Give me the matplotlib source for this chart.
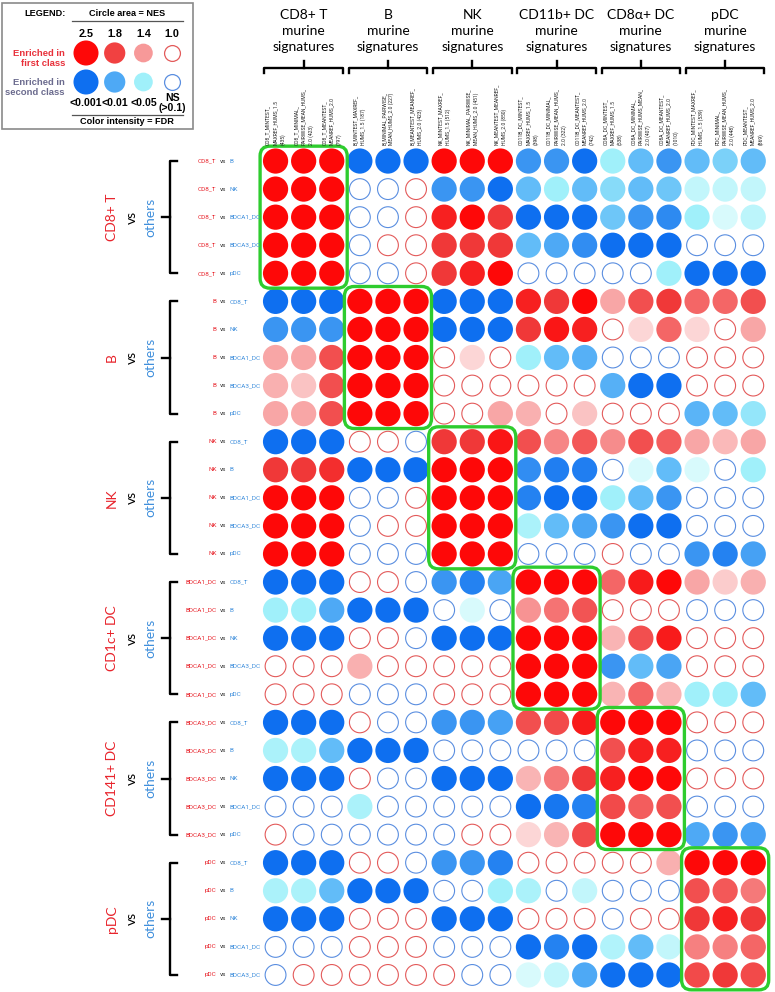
"""
Recreate GSEA circle grid: human cell-type comparisons vs murine signatures.
"""

import numpy as np
import matplotlib
matplotlib.use("Agg")
import matplotlib.pyplot as plt
from matplotlib.colors import to_rgb
from matplotlib.patches import FancyBboxPatch, Rectangle

# ── Data ───────────────────────────────────────────────────────────────

HUMAN = ["CD8_T", "B", "NK", "BDCA1_DC", "BDCA3_DC", "pDC"]
HUMAN_TITLES = ["CD8+ T", "B", "NK", "CD1c+ DC", "CD141+ DC", "pDC"]
MURINE_TITLES = ["CD8+ T", "B", "NK", "CD11b+ DC", "CD8α+ DC", "pDC"]

SIGNATURES = [
    "CD8_T_MINTEST_\nMAXREF_HUMS_1.5\n(435)",
    "CD8_T_MINIMAL_\nPAIRWISE_MEAN_HUMS_\n2.0 (423)",
    "CD8_T_MEANTEST_\nMEANREF_HUMS_2.0\n(797)",
    "B_MINTEST_MAXREF_\nHUMS_1.5 (187)",
    "B_MINIMAL_PAIRWISE_\nMEAN_HUMS_2.0 (227)",
    "B_MEANTEST_MEANREF_\nHUMS_2.0 (423)",
    "NK_MINTEST_MAXREF_\nHUMS_1.5 (512)",
    "NK_MINIMAL_PAIRWISE_\nMEAN_HUMS_2.0 (451)",
    "NK_MEANTEST_MEANREF_\nHUMS_2.0 (850)",
    "CD11B_DC_MINTEST_\nMAXREF_HUMS_1.5\n(398)",
    "CD11B_DC_MINIMAL_\nPAIRWISE_MEAN_HUMS_\n2.0 (322)",
    "CD11B_DC_MEANTEST_\nMEANREF_HUMS_2.0\n(742)",
    "CD8A_DC_MINTEST_\nMAXREF_HUMS_1.5\n(538)",
    "CD8A_DC_MINIMAL_\nPAIRWISE_HUMS_MEAN_\n2.0 (407)",
    "CD8A_DC_MEANTEST_\nMEANREF_HUMS_2.0\n(1010)",
    "PDC_MINTEST_MAXREF_\nHUMS_1.5 (539)",
    "PDC_MINIMAL_\nPAIRWISE_MEAN_HUMS_\n2.0 (448)",
    "PDC_MEANTEST_\nMEANREF_HUMS_2.0\n(869)",
]

# Signed enrichment level per cell.
# + = enriched in first class (red), - = enriched in second class (blue)
# |6| = FDR < 0.001 ... |2| = faint, |1| = NS (open circle)
cd8_vs = [
    [6, 6, 6, -6, -6, -6, 6, 6, 6, -5, -5, -6, -3, -4, -5, -4, -3.6, -4],
    [6, 6, 6, -1, -1, 1, -5, -5, -6, -4, -3, -4, -3.4, -4, -3.8, -2.4, -2.4, -2.4],
    [6, 6, 6, -1, -1, 1, 5.5, 6, 5, -6, -6, -6, -3.8, -5, -5.3, -3, -2, -2.5],
    [6, 6, 6, -1, 1, 1, 5, 5, 5, -4, -4.5, -5.2, -6, -6, -6, -1, -1, -1],
    [6, 6, 6, -1, -1, 1, 5, 5.5, 6, -1, -1, -1, -1, -1, -3, -6, -6, -6],
]
b_vs = [
    [-6, -6, -6, 6, 6, 6, -6, -6, -6, 5.5, 5, 6, 3, 4.5, 5, 4, 4, 4.5],
    [-5, -5, -5, 6, 6, 6, -6, -6, -6, 5, 5.7, 5.5, 1, 2, 4, 2, 1, 3],
    [3, 3, 4.5, 6, 6, 6, 1, 2, 1, -3, -4, -4.3, -1, -1, -1, 1, 1, 1],
    [2.8, 2.4, 4.5, 6, 6, 6, 1, 1, 1, 1, 1, 1, -4.3, -6, -6, 1, 1, 1],
    [3, 3, 4.5, 6, 6, 6, 1, 1, 3, 2.8, 1, 2.4, 1, 1, 1, -4.2, -4, -3.2],
]
nk_vs = [
    [-6, -6, -6, 1, 1, -1, 5, 5, 5.7, 4.5, 3.5, 4.3, 3.4, 4.5, 4.2, 3, 2.6, 3],
    [5, 5, 5.2, -6, -6, -6, 6, 6, 6, -5.2, -5.6, -5.6, -1, -2, -4, -2, -1, -3],
    [6, 6, 6, -1, -1, 1, 6, 6, 6, -5.5, -6, -6, -3, -4, -5, -1, -1, -1],
    [6, 6, 6, -1, 1, 1, 6, 6, 6, -2.8, -4, -4.6, -5, -6, -6, -1, -1, -1],
    [6, 6, 6, -1, -1, -1, 6, 6, 6, -1, -1, -1, 1, -1, -1, -5, -5.5, -4.7],
]
bdca1_vs = [
    [-6, -6, -6, 1, 1, -1, -5, -5.5, -4.6, 6, 6, 6, 4, 5.6, 6, 3, 2.2, 2.8],
    [-3, -3, -4.5, -6, -6, -6, -1, -2, -1, 3.3, 3.8, 4.4, 1, 1, 1, -1, -1, -1],
    [-6, -6, -6, 1, 1, -1, -6, -6, -6, 6, 6, 6, 2.7, 4.5, 5.6, 1, 1, 1],
    [1, 1, 1, 2.8, 1, 1, 1, 1, 1, 6, 6, 6, -5, -4, -4.6, 1, 1, 1],
    [1, 1, 1, -1, -1, -1, 1, 1, 1, 6, 6, 6, 2.7, 4, 2.7, -3, -3, -4],
]
bdca3_vs = [
    [-6, -6, -6, 1, -1, -1, -5, -5, -4.7, 4.5, 4.6, 5.6, 6, 6, 6, 1, 1, 1],
    [-2.8, -2.8, -4, -6, -6, -6, -1, -1, -1, -1, -1, -1, 4.5, 5.5, 5.5, -1, -1, -1],
    [-6, -6, -6, 1, -1, -1, -6, -6, -6, 2.7, 3.7, 5, 5.5, 6, 6, 1, 1, 1],
    [-1, -1, -1, -2.8, -1, -1, -1, -1, -1, -6, -5.8, -5.5, 4.6, 4.2, 4.5, -1, -1, -1],
    [1, -1, -1, -1, -1, -1, -1, 1, 1, 2, 2.7, 4.6, 6, 6, 6, -4.5, -5, -4.7],
]
pdc_vs = [
    [-6, -6, -6, 1, 1, -1, -5, -5, -5.5, 1, 1, 1, 1, 1, 2.8, 6, 6, 6],
    [-2.8, -2.8, -4, -6, -6, -6, -1, -1, -3, -2.8, -1, -2.4, -1, -1, -1, 4.5, 4.3, 3.7],
    [-6, -6, -6, 1, 1, 1, -6, -6, -6, 1, 1, 1, -1, 1, 1, 5, 5.5, 5],
    [-1, -1, -1, 1, 1, 1, -1, -1, -1, -6, -5.5, -6, -2.7, -4, -2.4, 3.6, 3.6, 4],
    [-1, 1, 1, 1, 1, 1, 1, -1, -1, -2, -2.4, -4.5, -6, -6, -6, 4.6, 5, 4.6],
]

LEGEND_NES = [2.5, 1.8, 1.4, 1.0]
LEGEND_FDR = ["<0.001", "<0.01", "<0.05", "NS\n(>0.1)"]
LEGEND_RED = [6, 4.8, 3.2, 1]
LEGEND_BLUE = [-6, -4.5, -3, -1]

# ── Style ──────────────────────────────────────────────────────────────

LEVELS = [2, 3, 4, 5, 6]
RED_ANCHORS = ["#fcd6d6", "#f8a6a6", "#f46666", "#f03838", "#fe0808"]
BLUE_ANCHORS = ["#d8fafc", "#a0f0fa", "#62bcf8", "#3a95f2", "#0e6ff0"]
RED_OPEN = "#e35a5a"
BLUE_OPEN = "#5a8ee0"
RED_TEXT = "#e8242c"
BLUE_TEXT = "#3f8fdc"
GREEN = "#2ecc2e"


def level_color(v):
    anchors = RED_ANCHORS if v > 0 else BLUE_ANCHORS
    rgb = np.array([to_rgb(c) for c in anchors])
    return tuple(np.interp(abs(v), LEVELS, rgb[:, k]) for k in range(3))


def open_color(v):
    return RED_OPEN if v > 0 else BLUE_OPEN


# ── Figure ─────────────────────────────────────────────────────────────

W, H = 775, 992
fig = plt.figure(figsize=(W / 100, H / 100), dpi=100)

# main grid axes: one unit = one cell (~28 px)
ax = fig.add_axes([261.5 / W, 3 / H, 505.8 / W, 842 / H])
ax.set_xlim(-0.5, 17.5)
ax.set_ylim(29.5, -0.5)
ax.axis("off")

values = np.array(cd8_vs + b_vs + nk_vs + bdca1_vs + bdca3_vs + pdc_vs, dtype=float)
rows, cols = np.indices(values.shape)
filled = np.abs(values) > 1

ax.scatter(cols[filled], rows[filled], s=330,
           c=[level_color(v) for v in values[filled]],
           edgecolors="none", clip_on=False, zorder=2)
ax.scatter(cols[~filled], rows[~filled], s=225, facecolors="white",
           edgecolors=[open_color(v) for v in values[~filled]],
           linewidths=0.8, clip_on=False, zorder=2)

# green boxes around matching cell types
for g in range(6):
    box = FancyBboxPatch((3 * g - 0.55, 5 * g - 0.53), 3.1, 5.06,
                         boxstyle="round,pad=0,rounding_size=0.35",
                         fill=False, ec=GREEN, lw=2.4, clip_on=False, zorder=3)
    ax.add_patch(box)

# row labels "X vs Y"
for g, first in enumerate(HUMAN):
    others = [h for h in HUMAN if h != first]
    for k, second in enumerate(others):
        r = 5 * g + k
        ax.text(-2.1, r, first, ha="right", va="center", fontsize=4.6,
                family="Roboto", color=RED_TEXT, clip_on=False)
        ax.text(-1.87, r, "vs", ha="center", va="center", fontsize=4.6,
                family="Roboto", color="#333333", clip_on=False)
        ax.text(-1.64, r, second, ha="left", va="center", fontsize=4.6,
                family="Roboto", color=BLUE_TEXT, clip_on=False)

    # group label + bracket
    yc = 5 * g + 2
    ax.text(-5.82, yc, HUMAN_TITLES[g], rotation=90, ha="center", va="center",
            fontsize=10, family="Lato", color=RED_TEXT)
    ax.text(-5.11, yc, "vs", rotation=90, ha="center", va="center",
            fontsize=10, family="Lato", color="black")
    ax.text(-4.47, yc, "others", rotation=90, ha="center", va="center",
            fontsize=10, family="Lato", color=BLUE_TEXT)
    y0, y1 = 5 * g, 5 * g + 4
    ax.plot([-3.5, -3.75, -3.75, -3.5], [y0, y0, y1, y1], color="black",
            lw=1.7, clip_on=False, solid_joinstyle="round")
    ax.plot([-3.75, -4.05], [yc, yc], color="black", lw=1.7, clip_on=False)

# column headers
for g, title in enumerate(MURINE_TITLES):
    xc = 3 * g + 1
    ax.text(xc, -4.62, f"{title}\nmurine\nsignatures", ha="center", va="center",
            fontsize=10, family="Lato", linespacing=1.4, clip_on=False)
    x0, x1 = 3 * g - 0.4, 3 * g + 2.4
    ax.plot([x0, x0, x1, x1], [-3.13, -3.31, -3.31, -3.13], color="black",
            lw=1.7, clip_on=False, solid_joinstyle="round")
    ax.plot([xc, xc], [-3.31, -3.58], color="black", lw=1.7, clip_on=False)

for c, label in enumerate(SIGNATURES):
    ax.text(c, -0.57, label, rotation=90, ha="center", va="bottom",
            multialignment="left", fontsize=3.6, family="Roboto",
            linespacing=1.5, color="#222222", clip_on=False)

# ── Legend ─────────────────────────────────────────────────────────────

lax = fig.add_axes([0, 1 - 132 / H, 195 / W, 132 / H])
lax.set_xlim(0, 195)
lax.set_ylim(132, 0)
lax.axis("off")

lax.add_patch(Rectangle((2.5, 2.5), 190.5, 126, fill=False, ec="#8a8a8a", lw=1.2))
bold = dict(family="Liberation Sans", fontweight="bold", ha="center", va="center")
lax.text(45, 14, "LEGEND:", fontsize=6.6, **bold)
lax.text(127, 14, "Circle area = NES", fontsize=6.6, **bold)
lax.plot([72, 183], [21, 21], color="#555555", lw=0.9)
lax.plot([72, 183], [115, 115], color="#555555", lw=0.9)
lax.text(127, 122, "Color intensity = FDR", fontsize=6.6, **bold)

lx = 86 + 28.7 * np.arange(len(LEGEND_NES))
for x, nes, fdr in zip(lx, LEGEND_NES, LEGEND_FDR):
    lax.text(x, 34, f"{nes:.1f}", fontsize=7.8, **bold)
    lax.text(x, 103, fdr, fontsize=7.6, linespacing=1.05, **bold)

for y, lvls in [(53, LEGEND_RED), (82, LEGEND_BLUE)]:
    for x, nes, v in zip(lx, LEGEND_NES, lvls):
        if abs(v) > 1:
            lax.scatter([x], [y], s=130 * nes, c=[level_color(v)], edgecolors="none")
        else:
            lax.scatter([x], [y], s=130 * nes, facecolors="white",
                        edgecolors=open_color(v), linewidths=0.9)

lax.text(65, 58.5, "Enriched in\nfirst class", fontsize=6.8, color="#e8303a",
         linespacing=1.15, family="Liberation Sans", fontweight="bold",
         ha="right", va="center", multialignment="right")
lax.text(65, 87.5, "Enriched in\nsecond class", fontsize=6.8, color="#6b6b8e",
         linespacing=1.15, family="Liberation Sans", fontweight="bold",
         ha="right", va="center", multialignment="right")

fig.savefig("out.png", dpi=100)
plt.close(fig)
